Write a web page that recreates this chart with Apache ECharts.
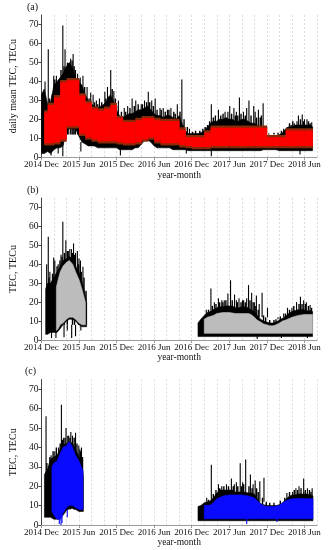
<!DOCTYPE html>
<html>
<head>
<meta charset="utf-8">
<script src="https://cdn.jsdelivr.net/npm/echarts@6/dist/echarts.min.js"></script>
<style>html,body{margin:0;padding:0;background:#fff}#c{width:331px;height:550px}</style>
</head>
<body>
<div id="c"></div>
<script>
// ---------- tick labels ----------
const monthNames = ['Jan','Feb','Mar','Apr','May','Jun','Jul','Aug','Sep','Oct','Nov','Dec'];

// ---------- panel (a): daily mean TEC ----------
const aDates = ['2014-12-01','2014-12-15',
'2015-01-01','2015-01-15','2015-02-01','2015-02-15','2015-03-01','2015-03-15','2015-04-01','2015-04-15','2015-05-01','2015-05-15','2015-06-01','2015-06-15','2015-07-01','2015-07-15','2015-08-01','2015-08-15','2015-09-01','2015-09-15','2015-10-01','2015-10-15','2015-11-01','2015-11-15','2015-12-01','2015-12-15',
'2016-01-01','2016-01-15','2016-02-01','2016-02-15','2016-03-01','2016-03-15','2016-04-01','2016-04-15','2016-05-01','2016-05-15','2016-06-01','2016-06-15','2016-07-01','2016-07-15','2016-08-01','2016-08-15','2016-09-01','2016-09-15','2016-10-01','2016-10-15','2016-11-01','2016-11-15','2016-12-01','2016-12-15',
'2017-01-01','2017-01-15','2017-02-01','2017-02-15','2017-03-01','2017-03-15','2017-04-01','2017-04-15','2017-05-01','2017-05-15','2017-06-01','2017-06-15','2017-07-01','2017-07-15','2017-08-01','2017-08-15','2017-09-01','2017-09-15','2017-10-01','2017-10-15','2017-11-01','2017-11-15','2017-12-01','2017-12-15',
'2018-01-01','2018-01-15','2018-02-01','2018-02-15','2018-03-01','2018-03-15','2018-04-01','2018-04-15','2018-05-01','2018-05-15','2018-06-01','2018-06-15','2018-07-01','2018-07-10'];
const aHi = [33,36,
28,29,38,40,42,44,48,50,47,42,40,38,33,30,28,27,26,27,28,30,33,30,25,22,
21,22,23,23,24,25,25,26,27,25,23,22,22,21,22,22,21,20,22,18,14,12.5,12.5,12.5,
12.5,13,14,16,18,19,19,20,20,21,20,20,19,19,20,20,19,18,18,17,16,12,11.5,11.5,
11.5,11.5,12,13,15,16,16,17,17,17,17,17,17,16];
const aLo = [2,2,
3,2,4,5,5,6,14,15,15,15,11,8,7,6,6,6,5,5,5,5,5,5,5,4,
4,4,4,4,5,5,7,9,9,8,6,5,5,5,5,5,4,4,4,4,4,3.5,3.5,3.5,
3.5,3.5,3.5,3.5,3.5,3.5,3.5,3.5,3.5,3.5,3.5,3.5,3.5,3.5,3.5,3.5,3.5,3.5,3.5,3.5,3.5,4,4,4,
4,4,3.5,3.5,3.5,3.5,3.5,3.5,3.5,3.5,3.5,3.5,3.5,3.5];
const aRedStart = ['2014-12-15',
'2015-01-01','2015-02-01','2015-03-01','2015-04-01','2015-05-01','2015-06-01','2015-07-01','2015-08-01','2015-09-01','2015-10-01','2015-11-01','2015-12-01',
'2016-01-01','2016-02-01','2016-03-01','2016-04-01','2016-05-01','2016-06-01','2016-07-01','2016-08-01','2016-09-01','2016-10-01','2016-11-01','2016-12-01',
'2017-01-01','2017-02-01','2017-03-01','2017-04-01','2017-05-01','2017-06-01','2017-07-01','2017-08-01','2017-09-01','2017-10-01','2017-11-01','2017-12-01',
'2018-01-01','2018-02-01','2018-03-01','2018-04-01','2018-05-01','2018-06-01','2018-07-01'];
const aRedEnd = '2018-07-10';
const aRedHi = [24,
28,32,40,41,41,33,29,26,25,26,28,21,
19,19,20,21,21,20,19.5,19.5,19.5,15,11,11,
11,13.5,16,16,16,16,16,16,16,16,16,11,
11,11,14.5,14.5,14.5,14.5,14.5];
const aRedLo = [7,
7,7.5,9,16,16,12,10,9,8,8,8,7.5,
7,7,7.5,9,10,8,7,7,7,6,5.5,5,
5,5,5.5,5.5,5.5,5.5,5.5,5.5,5.5,5.5,5.5,5.5,
5.5,5.5,5.5,5.5,5.5,5.5,5.5];
const aSpikeDates = ['2014-12-19','2015-01-04','2015-01-31','2015-02-12','2015-03-14','2015-03-25','2015-04-06','2015-04-21','2015-05-03','2015-05-15','2015-06-07','2015-06-20','2015-08-09','2015-09-09','2015-10-18','2015-11-03','2015-11-18','2016-02-15','2016-03-03','2016-03-30','2016-05-03','2016-06-06','2016-06-29','2016-08-22','2016-09-22','2016-10-14','2017-03-05','2017-04-09','2017-05-11','2017-06-03','2017-06-23','2017-07-20','2017-08-09','2017-09-05','2017-09-28','2017-10-21','2017-11-13','2018-03-08','2018-04-12','2018-05-02','2018-05-21','2018-06-13','2018-07-06',
'2015-02-25','2015-04-12','2015-05-25','2015-07-10','2015-07-28','2015-08-25','2015-10-05','2015-12-10','2016-01-08','2016-01-25','2016-04-15','2016-05-20','2016-07-15','2016-08-05','2016-11-20','2017-02-15','2017-05-25','2017-07-05','2017-08-25','2017-10-05','2018-02-20','2018-04-25','2018-06-01'];
const aSpikeVals = [40,57,43,43,69.5,57,50,52,54.5,46,42,43,33,31,37,46,35,31,30,28,34.5,31,26,26,28,41,28,25,24,27,26,31.5,24,30,27,25,28.5,16,18,22,22.5,20,18.5,
38,49.5,44,37,34,30,34.5,30,26,27,30,30,26,25,15,17,24,24,26,24,15,19,20];
const aShortDates = ['2015-01-10','2015-01-24','2015-02-05','2015-03-05','2015-03-20','2015-04-28','2015-05-08','2015-06-01','2015-06-28','2015-07-20','2015-08-16','2015-09-01','2015-09-20','2015-10-10','2015-10-25','2015-11-10','2015-11-25','2015-12-01','2015-12-25','2016-01-15','2016-02-05','2016-02-25','2016-03-15','2016-04-05','2016-04-25','2016-05-10','2016-05-28','2016-06-15','2016-07-05','2016-07-25','2016-08-12','2016-09-05','2016-09-12','2016-10-05','2016-10-25','2016-11-10','2016-12-05','2016-12-20','2017-01-10','2017-01-25','2017-02-05','2017-02-25','2017-03-15','2017-03-25','2017-04-20','2017-05-01','2017-06-12','2017-06-30','2017-07-12','2017-07-28','2017-08-18','2017-09-15','2017-10-12','2017-10-30','2017-11-05','2017-11-25','2017-12-10','2018-01-05','2018-01-25','2018-02-10','2018-03-20','2018-03-28','2018-04-05','2018-05-12','2018-05-28','2018-06-20','2018-06-28'];
const aShortVals = [31,33,41,46,48,51,48,41,37,31,29,28,29,31,32,36,31,27,24,24,26,27,28,28,29,29,27,25,25,24,25,24,23,24,20,16,13.5,14,14,15,16,19,21,22,22,23,23,22,22,23,22,22,21,21,22,13,12.5,13,13,14,18,17,19,20,19,19,18];
const aDipDates = ['2015-01-18','2015-02-20','2015-03-14','2015-06-10','2015-12-20','2016-11-05','2017-03-05','2018-05-10'];
const aDipVals = [1,2,0.5,3,1,2,0.5,1.5];

// ---------- panel (b) ----------
const bBlk1Dates = ['2014-12-22','2015-01-01','2015-01-15','2015-02-01','2015-02-15','2015-03-01','2015-03-15','2015-04-01','2015-04-15','2015-05-01','2015-05-15','2015-06-01','2015-06-15','2015-07-01','2015-07-08'];
const bBlk1Hi = [27,30,30,33,36,39,42,43,44,43,39,36,31,24,20];
const bBlk1Lo = [3,3,4,4,4,6,8,10,11,11,10,8,7,7,7];
const bGry1Dates = ['2015-02-12','2015-02-20','2015-03-01','2015-03-15','2015-04-01','2015-04-15','2015-05-01','2015-05-15','2015-06-01','2015-06-15','2015-07-02'];
const bGry1Hi = [28,32,36,39,41,42,40,36,32,27,20];
const bGry1Lo = [5,6,8,9,11,12,12,11,9,8,8];
const bBlk2Dates = ['2017-01-01','2017-01-15','2017-02-01','2017-02-15','2017-03-01','2017-03-15','2017-04-01','2017-04-15','2017-05-01','2017-05-15','2017-06-01','2017-06-15','2017-07-01','2017-07-15','2017-08-01','2017-08-15','2017-09-01','2017-09-15','2017-10-01','2017-10-15','2017-11-01','2017-11-15','2017-12-01','2017-12-15',
'2018-01-01','2018-01-15','2018-02-01','2018-02-15','2018-03-01','2018-03-15','2018-04-01','2018-04-15','2018-05-01','2018-05-15','2018-06-01','2018-06-15','2018-07-01','2018-07-10'];
const bBlk2Hi = [9,11,13,14.5,15,16,17,17.5,17.5,18,18,18,17,17,17.5,17.5,17,16,15,13,11,10,9.5,9,
9,9.5,10.5,11.5,12.5,14,15,15.5,16,16,16,15.5,15.5,15];
const bBlk2Lo = [1.8,1.8,1.8,1.8,1.8,1.8,1.8,1.8,1.8,1.8,1.8,1.8,1.8,1.8,1.8,1.8,1.8,1.8,1.8,1.8,1.8,1.8,1.8,1.8,
1.8,1.8,1.8,1.8,1.8,1.8,1.8,1.8,1.8,1.8,1.8,1.8,1.8,1.8];
const bGry2Dates = ['2017-02-01','2017-02-15','2017-03-01','2017-03-15','2017-04-01','2017-05-01','2017-06-01','2017-07-01','2017-08-01','2017-09-01','2017-09-15','2017-10-01','2017-10-15','2017-11-01','2017-11-15','2017-12-01','2017-12-15','2018-01-01','2018-01-15','2018-02-01','2018-02-15','2018-03-01','2018-04-01','2018-05-01','2018-06-01','2018-07-10'];
const bGry2Hi = [11,12,12.5,13,14,14.5,14.5,14,14,14,13.5,12,10.5,9.5,8.5,8,7.5,7.5,8,9,10,10.5,12,13,13.5,13.5];
const bGry2Lo = [3.5,3.5,3.5,3.5,3.5,3.5,3.5,3.5,3.5,3.5,3.5,3.5,3.5,3.5,3.5,3.5,3.5,3.5,3.5,3.5,3.5,3.5,3.5,3.5,3.5,3.5];
const bSpikeDates = ['2014-12-27','2015-01-04','2015-01-12','2015-01-31','2015-02-20','2015-03-14','2015-03-29','2015-04-10','2015-04-17','2015-05-05','2015-05-24','2015-06-08','2015-06-20','2017-03-03','2017-04-09','2017-05-07','2017-05-25','2017-06-07','2017-06-26','2017-07-18','2017-08-10','2017-09-03','2017-09-18','2017-10-11','2017-11-08','2017-12-04','2018-03-10','2018-04-01','2018-04-23','2018-05-12','2018-05-28','2018-06-28',
'2015-02-05','2015-03-05','2015-04-25','2015-05-15','2015-06-01','2017-02-10','2017-03-20','2017-04-25','2017-07-05','2017-08-25','2017-10-01','2017-10-25','2018-01-25','2018-02-20','2018-06-10'];
const bSpikeVals = [40,54.5,36,43.6,40,62.4,52.7,47,48,51,47,42,38.7,27.2,22,21,24.6,31.6,24,22,21,29,25,23.5,25,17,17,17,20,22.8,21,18.5,
42,45,48,46,43,16,20,21,21,22,20,19,11,14,20];
const bShortDates = ['2015-01-08','2015-01-25','2015-02-15','2015-02-28','2015-03-10','2015-03-22','2015-04-05','2015-04-30','2015-05-10','2015-05-30','2015-06-12','2015-06-25','2015-07-05',
'2017-02-20','2017-03-10','2017-03-28','2017-04-15','2017-04-30','2017-05-15','2017-06-15','2017-07-10','2017-07-28','2017-08-05','2017-08-18','2017-09-10','2017-09-25','2017-10-05','2017-10-20','2017-11-15','2017-11-25','2017-12-15','2018-01-05','2018-01-15','2018-02-05','2018-02-28','2018-03-20','2018-04-10','2018-05-05','2018-05-20','2018-06-05','2018-06-20','2018-07-05'];
const bShortVals = [33,35,39,42,44,46,47,46,45,40,36,33,26,
16,18,19,20,20,21,21,20,20,21,20,21,20,18,16,13,12,10.5,10.5,11,12.5,14,16,18,19,19,19,18,17];
const bDipDates = ['2015-01-20','2015-02-10','2015-03-20','2015-04-05','2015-04-26','2015-05-15','2015-06-10','2017-10-15','2018-02-10','2018-06-15'];
const bDipVals = [1,1,1.5,5,1,2,5,0.5,1,1];

// ---------- panel (c) ----------
const cBlk1Dates = ['2014-12-16','2015-01-01','2015-01-15','2015-02-01','2015-02-15','2015-03-01','2015-03-15','2015-04-01','2015-04-15','2015-05-01','2015-05-15','2015-06-01','2015-06-15','2015-06-22'];
const cBlk1Hi = [26,29,34,35,36,39,41,42,43,42,39,35,32,25];
const cBlk1Lo = [4,4,4,3,3,3,5,7.5,8.5,8.5,8,7,7,7];
const cBlu1Dates = ['2015-01-22','2015-02-01','2015-02-15','2015-03-01','2015-03-15','2015-04-01','2015-04-15','2015-05-01','2015-05-15','2015-06-01','2015-06-20'];
const cBlu1Hi = [30,32,33,37,40,41,43,40,36,33,28];
const cBlu1Lo = [7,5,3,3,6,9,10,10,9,8,8];
const cBlk2Dates = ['2017-01-01','2017-01-15','2017-02-01','2017-02-15','2017-03-01','2017-03-15','2017-04-01','2017-04-15','2017-05-01','2017-05-15','2017-06-01','2017-06-15','2017-07-01','2017-07-15','2017-08-01','2017-08-15','2017-09-01','2017-09-15','2017-10-01','2017-10-15','2017-11-01','2017-11-15','2017-12-01','2017-12-15',
'2018-01-01','2018-01-15','2018-02-01','2018-02-15','2018-03-01','2018-03-15','2018-04-01','2018-04-15','2018-05-01','2018-05-15','2018-06-01','2018-06-15','2018-07-01','2018-07-12'];
const cBlk2Hi = [9.5,10,11.5,12,12.5,14,16.5,18,18,18,18,18,17,17,17,17,16.5,16.5,16,13.5,11,10.5,10,10,
10,10,10.5,11.5,13,14.5,15.5,15.5,16,16,16,16,15.5,15];
const cBlk2Lo = [2.2,2.2,2.2,2.2,2.2,2.2,2.2,2.2,2.2,2.2,2.2,2.2,2.2,2.2,2.2,2.2,2.2,2.2,2.2,2.2,2.2,2.2,2.2,2.2,
2.2,2.2,2.2,2.2,2.2,2.2,2.2,2.2,2.2,2.2,2.2,2.2,2.2,2.2];
const cBlu2Dates = ['2017-02-01','2017-03-01','2017-03-15','2017-04-01','2017-05-01','2017-06-01','2017-07-01','2017-08-01','2017-09-01','2017-10-01','2017-10-15','2017-11-01','2017-11-15','2017-12-01','2018-01-01','2018-02-01','2018-02-15','2018-03-01','2018-04-01','2018-05-01','2018-06-01','2018-07-12'];
const cBlu2Hi = [10,10.3,11.5,13.5,15,15.5,15.5,15.5,15,14,12.5,11,10,9.5,9.5,10,11.5,12.5,13.5,13.7,13.7,13.5];
const cBlu2Lo = [3.2,3.2,3.2,3.2,3.2,3.2,3.2,3.2,3.2,3.2,3.2,3.2,3.2,3.2,3.2,3.2,3.2,3.2,3.2,3.2,3.2,3.2];
const cSpikeDates = ['2014-12-24','2015-01-08','2015-02-05','2015-02-22','2015-03-07','2015-03-30','2015-04-12','2015-04-22','2015-05-15','2015-05-31','2015-06-13','2017-03-05','2017-04-09','2017-05-18','2017-06-11','2017-07-05','2017-07-24','2017-08-20','2017-09-12','2017-10-05','2017-10-28','2017-11-17','2018-03-07','2018-04-04','2018-05-05','2018-05-28','2018-07-08',
'2015-01-18','2015-03-18','2015-04-30','2015-06-05','2017-02-12','2017-04-25','2017-06-25','2017-08-05','2017-09-25','2018-01-15','2018-04-20','2018-06-15'];
const cSpikeVals = [56,30,38,40,62,50,46,48,47.5,41,40,31,21,21,24,22,31.8,33.8,26,23,22.5,24.4,16.5,17,20,24,19,
36,45,46,39,14,20,21,22,21,12,19,19];
const cShortDates = ['2014-12-28','2015-01-12','2015-01-28','2015-02-12','2015-03-01','2015-03-12','2015-03-25','2015-04-08','2015-04-18','2015-05-08','2015-05-22','2015-06-08','2015-06-18',
'2017-02-20','2017-03-15','2017-03-28','2017-04-15','2017-05-05','2017-05-28','2017-06-20','2017-07-12','2017-07-30','2017-08-10','2017-09-05','2017-09-20','2017-10-12','2017-10-20','2017-11-10','2017-11-28','2017-12-15','2018-01-05','2018-02-05','2018-02-25','2018-03-20','2018-04-12','2018-04-28','2018-05-15','2018-06-05','2018-06-25','2018-07-02'];
const cShortVals = [32,35,38,40,42,44,45,46,45,45,42,38,35,
13,16,18,19,20,20,20,20,20,21,20,19,19,17,14,12,11.5,11.5,12.5,14,17,18,18,19,18,18,17];
const cDipDates = ['2015-02-25','2015-03-05','2015-03-10','2015-04-05','2017-08-25','2018-01-20'];
const cDipVals = [0.5,0,1,4,0.5,1.5];

// ---------- helpers ----------
const FONT = '"Liberation Serif", "DejaVu Serif", "Times New Roman", serif';
function mIdx(s) { // months since 2014-12-01
  const p = s.split('-').map(Number);
  const dim = new Date(Date.UTC(p[0], p[1], 0)).getUTCDate();
  return (p[0] - 2014) * 12 + (p[1] - 12) + (p[2] - 1) / dim;
}
function bandEls(api, L) {
  const pts = [];
  for (let i = 0; i < L.dates.length; i++) pts.push(api.coord([mIdx(L.dates[i]), L.hi[i]]));
  for (let i = L.dates.length - 1; i >= 0; i--) pts.push(api.coord([mIdx(L.dates[i]), L.lo[i]]));
  return [{ type: 'polygon', shape: { points: pts }, style: { fill: L.color, stroke: L.color, lineWidth: 0.6 } }];
}
function spikeEls(api, L) {
  return L.dates.map((d, i) => {
    const a = api.coord([mIdx(d), L.base]);
    const b = api.coord([mIdx(d), L.vals[i]]);
    return { type: 'line', shape: { x1: a[0], y1: a[1], x2: b[0], y2: b[1] }, style: { stroke: L.color, lineWidth: L.w || 1.1 } };
  });
}
function blockEls(api, L) {
  const out = [];
  const rects = L.starts.map((s, i) => {
    const tl = api.coord([mIdx(s), L.hi[i]]);
    const br = api.coord([mIdx(i + 1 < L.starts.length ? L.starts[i + 1] : L.end), L.lo[i]]);
    return [tl[0], tl[1], br[0] - tl[0] + 0.3, br[1] - tl[1]];
  });
  rects.forEach(r => out.push({ type: 'rect', shape: { x: r[0], y: r[1] - 1.5, width: r[2], height: r[3] + 3 }, style: { fill: L.edge } }));
  rects.forEach(r => out.push({ type: 'rect', shape: { x: r[0], y: r[1] + 0.8, width: r[2], height: r[3] - 1.6 }, style: { fill: L.color } }));
  return out;
}
function panelSeries(g, layers) {
  return { type: 'custom', xAxisIndex: g * 2, yAxisIndex: g, silent: true, animation: false, clip: true,
    data: [[0, 0]],
    renderItem: function (params, api) {
      let children = [];
      layers.forEach(L => {
        if (L.kind === 'band') children = children.concat(bandEls(api, L));
        else if (L.kind === 'spikes') children = children.concat(spikeEls(api, L));
        else children = children.concat(blockEls(api, L));
      });
      return { type: 'group', children: children };
    } };
}

const grids = [
  { left: 28, top: 15, width: 289, height: 142.3 },
  { left: 28, top: 198, width: 289, height: 142 },
  { left: 28, top: 379.5, width: 289, height: 145.5 }
];
const yNames = ['daily mean TEC, TECu', 'TEC, TECu', 'TEC, TECu'];
const xAxes = [], yAxes = [];
grids.forEach((gr, g) => {
  xAxes.push({ type: 'value', gridIndex: g, min: 0, max: 44, interval: 6,
    axisLine: { show: true, lineStyle: { color: '#9a9a9a', width: 1 } },
    axisTick: { show: true, length: 3, lineStyle: { color: '#9a9a9a' } },
    axisLabel: { fontFamily: FONT, fontSize: 9, color: '#111', margin: 3, showMaxLabel: false, showMinLabel: true,
      formatter: v => (2014 + Math.floor((11 + v) / 12)) + ' ' + monthNames[(11 + v) % 12] },
    splitLine: { show: false },
    name: 'year-month', nameLocation: 'middle', nameGap: 12,
    nameTextStyle: { fontFamily: FONT, fontSize: 9.5, color: '#111' } });
  xAxes.push({ type: 'value', gridIndex: g, min: 0, max: 44, interval: 2, position: 'bottom',
    axisLine: { show: false }, axisTick: { show: false }, axisLabel: { show: false },
    splitLine: { show: true, lineStyle: { color: '#d4d4d4', type: [2, 2], width: 0.8 } } });
  yAxes.push({ type: 'value', gridIndex: g, min: 0, max: 75, interval: 10,
    axisLine: { show: true, lineStyle: { color: '#444', width: 1 } },
    axisTick: { show: true, length: 3, lineStyle: { color: '#444' } },
    axisLabel: { fontFamily: FONT, fontSize: 9.5, color: '#111', margin: 3, showMaxLabel: false },
    splitLine: { show: false },
    name: yNames[g], nameLocation: 'middle', nameGap: 14, nameRotate: 90,
    nameTextStyle: { fontFamily: FONT, fontSize: 10, color: '#111' } });
});

const series = [
  panelSeries(0, [
    { kind: 'band', dates: aDates, hi: aHi, lo: aLo, color: '#000' },
    { kind: 'spikes', dates: aShortDates, vals: aShortVals, base: 12, color: '#000', w: 1.4 },
    { kind: 'spikes', dates: aSpikeDates, vals: aSpikeVals, base: 12, color: '#000' },
    { kind: 'spikes', dates: aDipDates, vals: aDipVals, base: 8, color: '#000' },
    { kind: 'blocks', starts: aRedStart, end: aRedEnd, hi: aRedHi, lo: aRedLo, color: '#ff0000', edge: '#8a2a08' }
  ]),
  panelSeries(1, [
    { kind: 'band', dates: bBlk1Dates, hi: bBlk1Hi, lo: bBlk1Lo, color: '#000' },
    { kind: 'band', dates: bBlk2Dates, hi: bBlk2Hi, lo: bBlk2Lo, color: '#000' },
    { kind: 'spikes', dates: bShortDates, vals: bShortVals, base: 8, color: '#000', w: 1.4 },
    { kind: 'spikes', dates: bSpikeDates, vals: bSpikeVals, base: 12, color: '#000' },
    { kind: 'spikes', dates: bDipDates, vals: bDipVals, base: 8, color: '#000' },
    { kind: 'band', dates: bGry1Dates, hi: bGry1Hi, lo: bGry1Lo, color: '#bcbcbc' },
    { kind: 'band', dates: bGry2Dates, hi: bGry2Hi, lo: bGry2Lo, color: '#bcbcbc' }
  ]),
  panelSeries(2, [
    { kind: 'band', dates: cBlk1Dates, hi: cBlk1Hi, lo: cBlk1Lo, color: '#000' },
    { kind: 'band', dates: cBlk2Dates, hi: cBlk2Hi, lo: cBlk2Lo, color: '#000' },
    { kind: 'spikes', dates: cShortDates, vals: cShortVals, base: 8, color: '#000', w: 1.4 },
    { kind: 'spikes', dates: cSpikeDates, vals: cSpikeVals, base: 12, color: '#000' },
    { kind: 'band', dates: cBlu1Dates, hi: cBlu1Hi, lo: cBlu1Lo, color: '#0a0aff' },
    { kind: 'band', dates: cBlu2Dates, hi: cBlu2Hi, lo: cBlu2Lo, color: '#0a0aff' },
    { kind: 'spikes', dates: cDipDates, vals: cDipVals, base: 8, color: '#0a0aff' }
  ])
];

const chart = echarts.init(document.getElementById('c'), null, { renderer: 'canvas' });
chart.setOption({
  animation: false,
  backgroundColor: '#fff',
  grid: grids,
  xAxis: xAxes,
  yAxis: yAxes,
  graphic: [
    { type: 'text', left: 27, top: 2, style: { text: '(a)', font: '10px ' + FONT, fill: '#111' } },
    { type: 'text', left: 27, top: 185, style: { text: '(b)', font: '10px ' + FONT, fill: '#111' } },
    { type: 'text', left: 25, top: 366, style: { text: '(c)', font: '10px ' + FONT, fill: '#111' } }
  ],
  series: series
});
</script>
</body>
</html>
